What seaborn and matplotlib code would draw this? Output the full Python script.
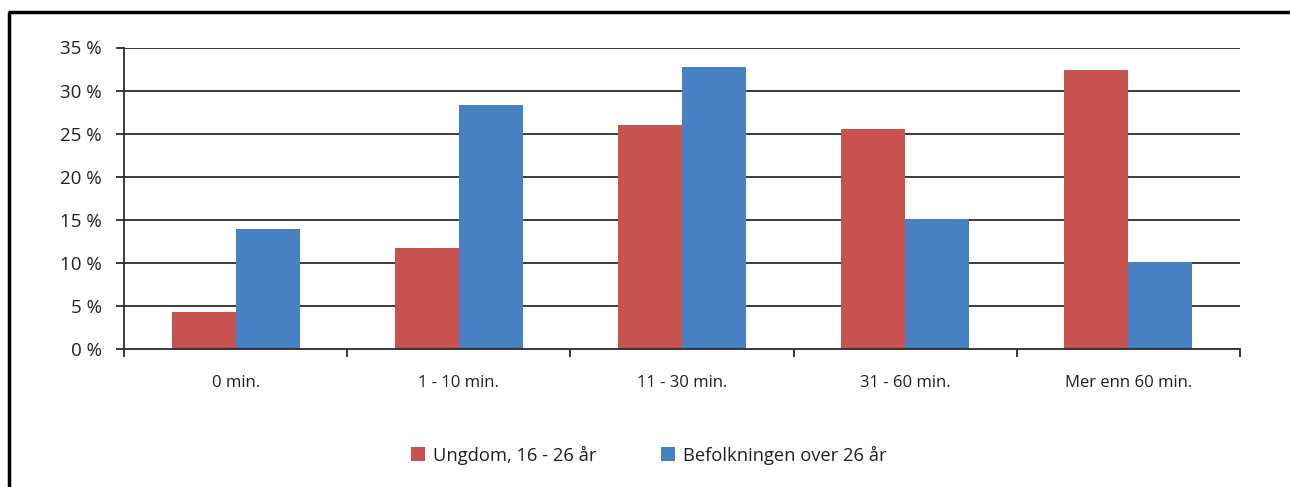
import matplotlib
matplotlib.use("Agg")
import matplotlib.pyplot as plt
from matplotlib.lines import Line2D
from matplotlib.patches import Patch
from matplotlib.ticker import FuncFormatter, FixedLocator
import seaborn as sns
import pandas as pd

categories = ["0 min.", "1 - 10 min.", "11 - 30 min.", "31 - 60 min.", "Mer enn 60 min."]
series_names = ["Ungdom, 16 - 26 år", "Befolkningen over 26 år"]
ungdom = [4.3, 11.7, 26.0, 25.5, 32.4]
befolkning = [13.9, 28.3, 32.7, 15.1, 10.1]
y_ticks = [0, 5, 10, 15, 20, 25, 30, 35]
colors = ["#C85250", "#4880C4"]

df = pd.DataFrame({
    "kategori": categories * 2,
    "serie": [series_names[0]] * len(categories) + [series_names[1]] * len(categories),
    "andel": ungdom + befolkning,
})

sns.set_theme(style="white")
plt.rcParams["font.family"] = ["Open Sans", "DejaVu Sans"]

fig = plt.figure(figsize=(12.9, 4.87), dpi=100)
ax = fig.add_axes([124 / 1290, 1 - 349 / 487, (1240 - 124) / 1290, (349 - 47.5) / 487])

sns.barplot(data=df, x="kategori", y="andel", hue="serie", order=categories,
            hue_order=series_names, palette=colors, width=0.574, gap=0,
            saturation=1, linewidth=0, legend=False, ax=ax, zorder=3)

ax.set_xlim(-0.5, len(categories) - 0.5)
ax.set_ylim(0, 35)
ax.set_yticks(y_ticks)
ax.yaxis.set_major_formatter(FuncFormatter(lambda v, _: f"{v:.0f} %"))
for y in y_ticks[1:]:
    ax.axhline(y, color="#2b2b2b", lw=1.3, zorder=1)

ax.set_xlabel("")
ax.set_ylabel("")
for s in ["top", "right"]:
    ax.spines[s].set_visible(False)
ax.spines["left"].set_color("#2b2b2b")
ax.spines["bottom"].set_color("#2b2b2b")
ax.spines["left"].set_linewidth(1.3)
ax.spines["bottom"].set_linewidth(1.3)
ax.spines["bottom"].set_zorder(4)

ax.tick_params(axis="y", which="major", length=6, width=1.3, color="#2b2b2b",
               left=True, labelsize=13.5, labelcolor="#231f20", pad=10)
ax.tick_params(axis="x", which="major", length=0, labelsize=12,
               labelcolor="#231f20", pad=19)
ax.xaxis.set_minor_locator(FixedLocator([i - 0.5 for i in range(len(categories) + 1)]))
ax.tick_params(axis="x", which="minor", bottom=True, length=6, width=1.3,
               color="#2b2b2b", direction="out")

handles = [Patch(facecolor=c, edgecolor="none") for c in colors]
fig.legend(handles, series_names, loc="center", bbox_to_anchor=(0.503, 1 - 455 / 487),
           ncol=2, frameon=False, fontsize=13.2, handlelength=0.78, handleheight=0.78,
           handletextpad=0.45, columnspacing=3.5, labelcolor="#231f20")

# frame lines along the top and left edge
fig.add_artist(Line2D([9 / 1290, 9 / 1290], [0, 1 - 12 / 487], transform=fig.transFigure,
                      color="black", lw=2.5, solid_capstyle="butt"))
fig.add_artist(Line2D([8 / 1290, 1], [1 - 12 / 487, 1 - 12 / 487], transform=fig.transFigure,
                      color="black", lw=2.5, solid_capstyle="butt"))

fig.savefig("out.png", dpi=100, facecolor="white")
